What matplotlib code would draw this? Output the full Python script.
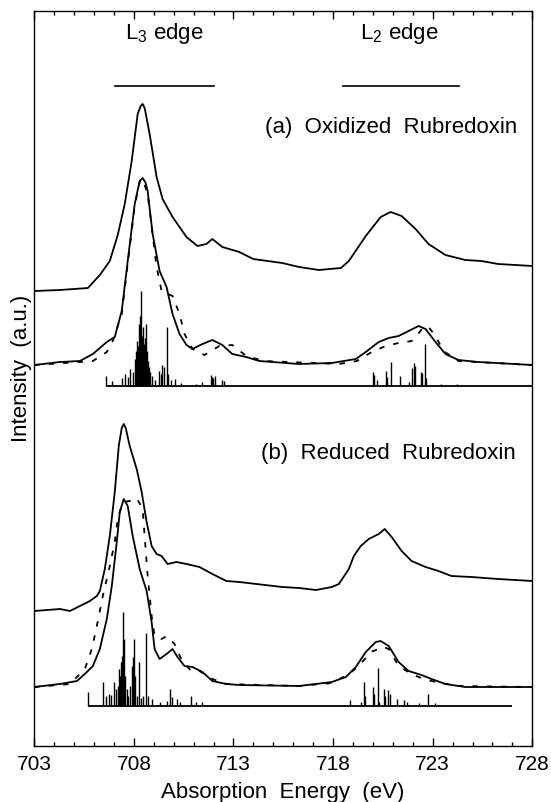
import numpy as np
import matplotlib
matplotlib.use("Agg")
import matplotlib.pyplot as plt

plt.rcParams['font.family'] = ['Liberation Sans', 'DejaVu Sans']
plt.rcParams['mathtext.fontset'] = 'custom'
plt.rcParams['mathtext.rm'] = 'Liberation Sans'
plt.rcParams['mathtext.it'] = 'Liberation Sans'

# ---------------- (a) Oxidized rubredoxin ----------------
a_exp_E = [703.00, 704.29, 705.69, 706.29, 706.79, 707.19, 707.54, 707.89, 708.19, 708.34,
           708.44, 708.54, 708.79, 709.14, 709.44, 709.94, 710.64, 711.19, 711.64, 711.94,
           712.44, 713.29, 713.99, 715.44, 716.29, 717.29, 718.39, 718.79, 719.64, 720.39,
           720.89, 721.44, 722.14, 722.79, 723.64, 724.64, 725.44, 726.29, 728.00]
a_exp_I = [455, 456, 458, 471, 485, 511, 542, 585, 632, 640,
           642, 638, 612, 569, 547, 529, 509, 500, 502, 507,
           499, 494, 487, 483, 479, 476, 478, 485, 510, 529,
           534, 530, 517, 502, 491, 486, 485, 482, 480]

a_calc_E = [703.00, 704.29, 705.29, 705.94, 706.64, 707.04, 707.39, 707.69, 708.04, 708.29,
            708.44, 708.59, 708.69, 708.94, 709.29, 709.64, 709.94, 710.29, 710.64, 710.94,
            711.44, 711.94, 712.44, 712.94, 713.64, 714.29, 716.29, 717.94, 719.14, 719.64,
            720.29, 720.79, 721.29, 721.79, 722.29, 722.64, 723.14, 723.64, 724.29, 725.29,
            728.00]
a_calc_I = [381, 384, 385, 392, 404, 409, 435, 485, 542, 565,
            568, 563, 555, 512, 475, 459, 432, 412, 401, 397,
            402, 406, 401, 392, 389, 385, 382, 383, 387, 394,
            404, 408, 410, 415, 420, 417, 404, 392, 386, 384,
            381]

a_dash_E = [703.00, 705.29, 705.94, 706.64, 706.94, 707.39, 707.69, 708.04, 708.29, 708.44,
            708.69, 709.04, 709.14, 709.39, 709.94, 710.29, 710.54, 710.94, 711.54, 712.29,
            712.94, 713.64, 714.54, 715.79, 718.29, 719.19, 719.94, 720.64, 721.29, 721.94,
            722.19, 722.54, 722.79, 723.14, 723.54, 724.29, 728.00]
a_dash_I = [381, 384, 385, 394, 405, 432, 482, 540, 564, 567,
            552, 495, 479, 455, 450, 432, 412, 397, 391, 400,
            401, 390, 385, 384, 382, 385, 394, 400, 403, 405,
            410, 419, 419, 410, 395, 385, 381]

a_stick_base = 360
a_stick_range = [706.59, 728.0]
a_stick_E = [706.59, 706.89, 707.39, 707.54, 707.69, 707.79, 707.94, 708.04, 708.09, 708.14,
             708.19, 708.24, 708.29, 708.34, 708.39, 708.44, 708.49, 708.54, 708.59, 708.64,
             708.69, 708.74, 708.79, 708.89, 709.04, 709.24, 709.34, 709.39, 709.49, 709.64,
             709.69, 709.84, 710.04, 710.34, 711.14, 711.44, 711.89, 711.94, 711.99, 712.09,
             712.44, 712.54,
             719.99, 720.04, 720.19, 720.64, 720.69, 720.89, 721.34, 721.79, 721.94, 722.04,
             722.09, 722.39, 722.44, 722.59, 722.64, 723.4, 724.2]
a_stick_h = [10, 5, 8, 12, 9, 17, 14, 27, 35, 45,
             40, 62, 70, 95, 50, 59, 42, 48, 62, 35,
             25, 19, 14, 10, 6, 15, 12, 21, 19, 59,
             12, 6, 7, 3, 2, 4, 11, 9, 8, 10,
             6, 5,
             14, 11, 6, 15, 9, 24, 10, 4, 18, 23,
             20, 14, 13, 42, 8, 2, 2]

# ---------------- (b) Reduced rubredoxin ----------------
b_exp_E = [703.00, 704.29, 704.79, 705.29, 705.79, 706.14, 706.29, 706.54, 706.79, 707.04,
           707.24, 707.39, 707.49, 707.59, 707.79, 708.14, 708.39, 708.64, 708.89, 709.14,
           709.39, 709.69, 710.14, 710.64, 711.29, 711.94, 712.64, 713.29, 715.44, 716.29,
           717.14, 717.94, 718.29, 718.79, 719.04, 719.39, 719.79, 720.29, 720.59, 720.94,
           721.44, 721.94, 722.64, 723.29, 723.94, 724.94, 726.29, 728.00]
b_exp_I = [135, 137, 135, 140, 145, 150, 155, 177, 210, 254,
           300, 318, 322, 318, 300, 277, 254, 224, 200, 192,
           190, 182, 184, 182, 179, 172, 165, 164, 159, 158,
           156, 159, 162, 177, 190, 200, 207, 212, 217, 209,
           195, 185, 179, 175, 170, 169, 167, 165]

b_calc_E = [703.00, 704.29, 705.14, 705.64, 705.94, 706.29, 706.64, 706.89, 707.14, 707.29,
            707.49, 707.69, 707.94, 708.29, 708.64, 708.89, 709.04, 709.29, 709.64, 709.94,
            710.19, 710.54, 710.94, 711.44, 711.94, 712.64, 713.29, 716.29, 717.94, 718.64,
            719.14, 719.64, 720.14, 720.39, 720.79, 721.29, 721.79, 722.44, 722.94, 723.64,
            724.64, 728.00]
b_calc_I = [59, 62, 65, 74, 80, 97, 127, 160, 204, 234,
            247, 240, 210, 177, 155, 124, 97, 87, 92, 97,
            89, 80, 79, 74, 65, 62, 61, 60, 64, 69,
            79, 94, 104, 105, 100, 84, 75, 71, 67, 62,
            59, 59]

b_dash_E = [703.00, 704.79, 705.14, 705.54, 705.89, 706.14, 706.44, 706.79, 707.04, 707.19,
            707.44, 707.79, 708.14, 708.44, 708.54, 708.69, 708.89, 709.04, 709.39, 709.64,
            710.04, 710.44, 710.89, 711.29, 711.94, 712.64, 716.29, 717.94, 718.79, 719.29,
            719.89, 720.54, 720.79, 721.29, 721.94, 722.54, 723.14, 724.29, 728.00]
b_dash_I = [59, 62, 69, 77, 97, 120, 150, 180, 204, 227,
            244, 245, 248, 237, 210, 170, 130, 110, 107, 110,
            102, 84, 75, 75, 67, 62, 60, 63, 72, 80,
            94, 99, 97, 80, 72, 67, 64, 60, 59]

b_stick_base = 40
b_stick_range = [705.69, 727.0]
b_stick_E = [705.69, 706.44, 706.59, 706.74, 706.84, 706.99, 707.09, 707.19, 707.24, 707.29,
             707.34, 707.39, 707.44, 707.49, 707.54, 707.64, 707.69, 707.79, 707.89, 707.94,
             707.99, 708.04, 708.14, 708.24, 708.34, 708.44, 708.59, 708.69, 708.89, 709.29,
             709.64, 709.79, 709.89, 710.14, 710.29, 710.89, 711.14, 711.44,
             718.84, 719.39, 719.54, 719.59, 719.99, 720.04, 720.24, 720.29, 720.54, 720.59,
             720.74, 720.84, 721.19, 721.54, 721.69, 722.29, 722.74, 723.14]
b_stick_h = [14, 24, 10, 12, 11, 24, 17, 20, 37, 30,
             44, 50, 94, 67, 30, 17, 10, 20, 40, 49,
             67, 30, 10, 44, 8, 10, 73, 10, 7, 4,
             5, 17, 9, 7, 4, 10, 4, 4,
             6, 4, 24, 10, 19, 12, 38, 4, 17, 10,
             16, 12, 7, 6, 4, 3, 12, 3]

xticks = [703, 708, 713, 718, 723, 728]

fig = plt.figure(figsize=(5.51, 8.03), dpi=100)
ax = fig.add_axes([34.3 / 551, 1 - 747 / 803, 498 / 551, 735 / 803])

lw = 1.3
ax.plot(a_exp_E, a_exp_I, color='black', lw=lw)
ax.plot(a_calc_E, a_calc_I, color='black', lw=lw)
ax.plot(a_dash_E, a_dash_I, color='black', lw=lw, linestyle=(0, (3, 5)))
ax.hlines(a_stick_base, a_stick_range[0], a_stick_range[1], color='black', lw=1.3)
ax.vlines(a_stick_E, a_stick_base, np.array(a_stick_h) + a_stick_base, color='black', lw=1.0)

ax.plot(b_exp_E, b_exp_I, color='black', lw=lw)
ax.plot(b_calc_E, b_calc_I, color='black', lw=lw)
ax.plot(b_dash_E, b_dash_I, color='black', lw=lw, linestyle=(0, (3, 5)))
ax.hlines(b_stick_base, b_stick_range[0], b_stick_range[1], color='black', lw=1.3)
ax.vlines(b_stick_E, b_stick_base, np.array(b_stick_h) + b_stick_base, color='black', lw=1.0)

ax.set_xlim(703, 728)
ax.set_ylim(0, 735)
ax.set_xticks(xticks)
ax.set_xticks(np.arange(703, 729, 1), minor=True)
ax.set_yticks([])
ax.tick_params(axis='x', which='both', direction='in', top=True, bottom=True,
               labelsize=15, pad=6, width=1.0)
ax.tick_params(axis='x', which='major', length=6)
ax.tick_params(axis='x', which='minor', length=3)
for s in ax.spines.values():
    s.set_linewidth(1.0)

fs = 16
ax.text(709.54, 714, r'L$_{3}$ edge', ha='center', va='center', fontsize=fs)
ax.plot([707.04, 712.04], [660, 660], color='black', lw=1.2)
ax.text(721.34, 714, r'L$_{2}$ edge', ha='center', va='center', fontsize=fs)
ax.plot([718.49, 724.34], [660, 660], color='black', lw=1.2)

ax.text(727.24, 619, '(a)  Oxidized  Rubredoxin', ha='right', va='center', fontsize=fs)
ax.text(727.19, 294, '(b)  Reduced  Rubredoxin', ha='right', va='center', fontsize=fs)

fig.text(22 / 551, 1 - 368 / 803, 'Intensity  (a.u.)', rotation=90,
         ha='center', va='center', fontsize=fs)
fig.text(283 / 551, 1 - 793 / 803, 'Absorption  Energy  (eV)',
         ha='center', va='center', fontsize=fs)

fig.savefig('out.png', dpi=100)
